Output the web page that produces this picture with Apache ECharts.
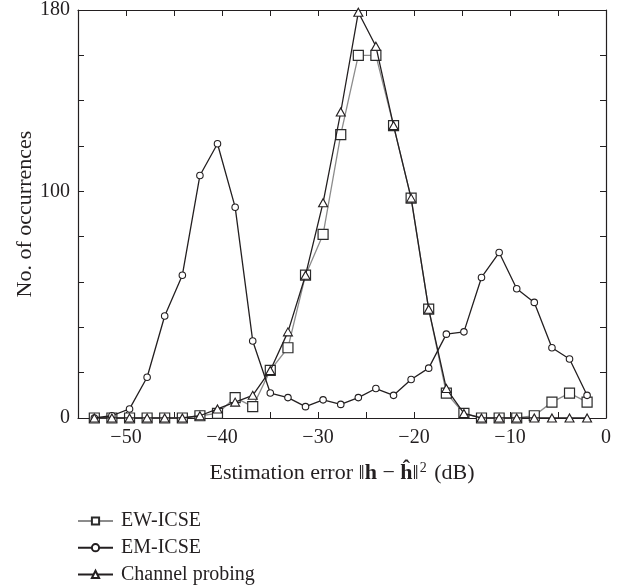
<!DOCTYPE html>
<html>
<head>
<meta charset="utf-8">
<script src="https://cdn.jsdelivr.net/npm/echarts@6/dist/echarts.min.js"></script>
<style>
html,body{margin:0;padding:0;background:#fff;}
#chart{width:628px;height:587px;}
</style>
</head>
<body>
<div id="chart"></div>
<script>
// Bin centres (dB)
const xValues = [-53.3, -51.47, -49.63, -47.8, -45.97, -44.13, -42.3, -40.47, -38.63, -36.8,
  -34.97, -33.13, -31.3, -29.47, -27.63, -25.8, -23.97, -22.13, -20.3, -18.47,
  -16.63, -14.8, -12.97, -11.13, -9.3, -7.47, -5.63, -3.8, -1.97];
const ewIcse = [0,0,0,0,0,0,1,2,9,5,21,31,63,81,125,160,160,129,97,48,11,2,0,0,0,1,7,11,7];
const emIcse = [0,1,4,18,45,63,107,121,93,34,11,9,5,8,6,9,13,10,17,22,37,38,62,73,57,51,31,26,10];
const channelProbing = [0,0,0,0,0,0,1,4,7,10,21,38,63,95,135,179,164,129,97,48,13,2,0,0,0,0,0,0,0];
const seriesNames = ['EW-ICSE', 'EM-ICSE', 'Channel probing'];
const yLabelValues = [0, 100, 180];
const xLabelStep = 10;

const FONT = 'Liberation Serif';
const INK = '#231f20';

function pairs(ys) { return xValues.map((x, i) => [x, ys[i]]); }

const chart = echarts.init(document.getElementById('chart'), null, {renderer: 'canvas'});

const xCommon = {
  type: 'value', min: -55, max: 0, interval: 5,
  axisLine: {show: true, onZero: false, lineStyle: {color: INK, width: 1.2}},
  axisTick: {show: true, inside: true, length: 6, lineStyle: {color: INK, width: 1}},
  splitLine: {show: false}
};
const yCommon = {
  type: 'value', min: 0, max: 180, interval: 20,
  axisLine: {show: true, onZero: false, lineStyle: {color: INK, width: 1.2}},
  axisTick: {show: true, inside: true, length: 6, lineStyle: {color: INK, width: 1}},
  splitLine: {show: false}
};

const option = {
  animation: false,
  backgroundColor: '#fff',
  grid: {left: 78, right: 22, top: 9, bottom: 169, containLabel: false},
  xAxis: [
    Object.assign({}, xCommon, {
      position: 'bottom',
      name: 'Estimation error ‖{b|h} − {b|ĥ}‖{sup|2} (dB)',
      nameLocation: 'middle', nameGap: 42,
      nameTextStyle: {
        fontFamily: FONT, fontSize: 22, color: INK, lineHeight: 26,
        rich: {
          b: {fontFamily: FONT, fontSize: 22, fontWeight: 'bold', color: INK, lineHeight: 26},
          sup: {fontFamily: FONT, fontSize: 14, color: INK, lineHeight: 26, padding: [0, 2, 10, 1]}
        }
      },
      axisLabel: {
        show: true, margin: 10, fontFamily: FONT, fontSize: 20, color: INK,
        showMinLabel: true, showMaxLabel: true,
        formatter: v => (Math.round(v) % xLabelStep === 0) ? String(Math.round(v)).replace('-', '−') : ''
      }
    }),
    Object.assign({}, xCommon, {position: 'top', axisLabel: {show: false}})
  ],
  yAxis: [
    Object.assign({}, yCommon, {
      position: 'left',
      name: 'No. of occurrences',
      nameLocation: 'middle', nameGap: 42, nameMoveOverlap: false,
      nameTextStyle: {fontFamily: FONT, fontSize: 22, color: INK},
      axisLabel: {
        show: true, margin: 8, fontFamily: FONT, fontSize: 20, color: INK,
        showMinLabel: true, showMaxLabel: true,
        formatter: v => yLabelValues.indexOf(Math.round(v)) >= 0 ? String(Math.round(v)) : ''
      }
    }),
    Object.assign({}, yCommon, {position: 'right', axisLabel: {show: false}})
  ],
  legend: {
    orient: 'vertical', left: 77, top: 511, height: 76, padding: 0,
    itemWidth: 35, itemHeight: 9, itemGap: 6.7,
    textStyle: {fontFamily: FONT, fontSize: 20, color: INK, lineHeight: 20, padding: [0, 0, 0, 3]},
    data: seriesNames
  },
  series: [
    {
      name: seriesNames[0], type: 'line', data: pairs(ewIcse),
      symbol: 'rect', symbolSize: 10, showAllSymbol: true,
      lineStyle: {color: '#8c8c8c', width: 1.3},
      itemStyle: {color: '#fff', borderColor: '#2a2a2a', borderWidth: 1.2},
      z: 2
    },
    {
      name: seriesNames[1], type: 'line', data: pairs(emIcse),
      symbol: 'circle', symbolSize: 6.5, showAllSymbol: true,
      lineStyle: {color: INK, width: 1.3},
      itemStyle: {color: '#fff', borderColor: INK, borderWidth: 1.1},
      z: 3
    },
    {
      name: seriesNames[2], type: 'line', data: pairs(channelProbing),
      symbol: 'triangle', symbolSize: [9, 8], showAllSymbol: true,
      lineStyle: {color: INK, width: 1.3},
      itemStyle: {color: '#fff', borderColor: INK, borderWidth: 1.1},
      z: 4
    }
  ]
};
chart.setOption(option);
</script>
</body>
</html>
